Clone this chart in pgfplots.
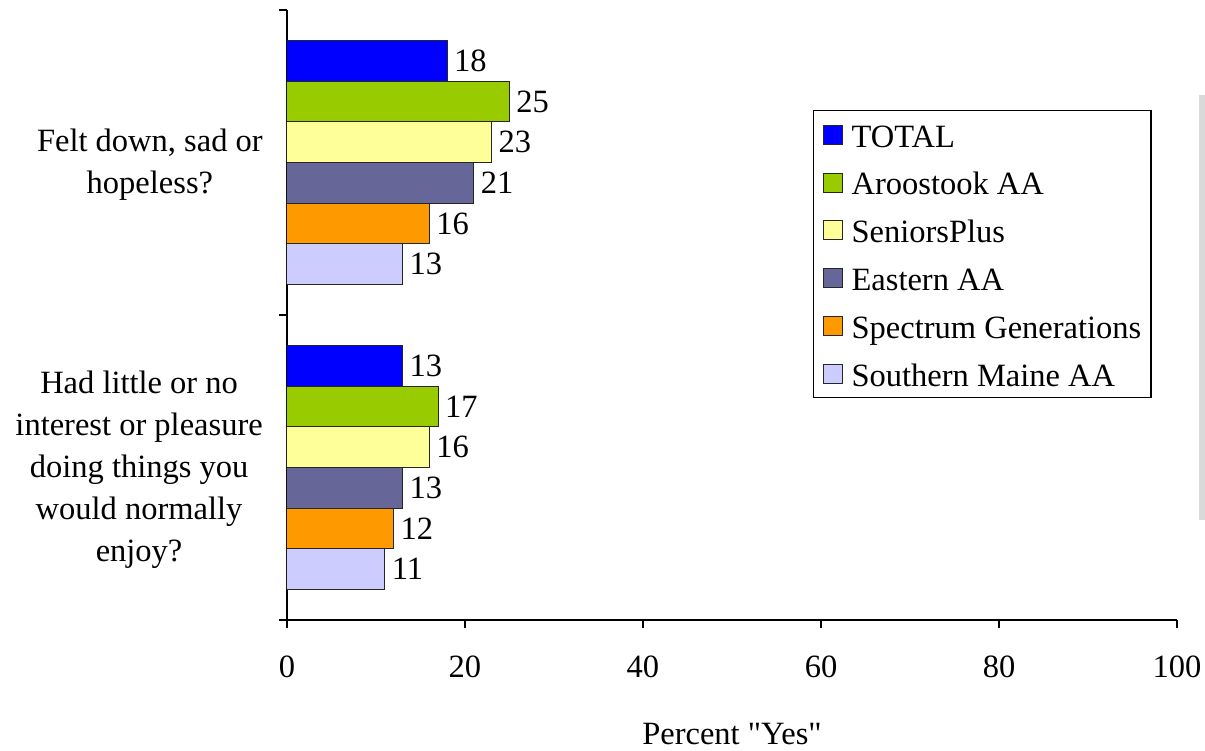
\documentclass[border=0pt]{standalone}
\usepackage{fontspec}
\setmainfont{Liberation Serif}
\usepackage{pgfplots}
\pgfplotsset{compat=1.18}
\pgfplotsset{/pgf/number format/assume math mode=true}

\definecolor{cTotal}{HTML}{0000FF}
\definecolor{cAroostook}{HTML}{99CC00}
\definecolor{cSeniors}{HTML}{FFFF99}
\definecolor{cEastern}{HTML}{666699}
\definecolor{cSpectrum}{HTML}{FF9900}
\definecolor{cSouthern}{HTML}{CCCCFF}

\newcommand{\chartfont}{\fontsize{16.25}{21}\selectfont}

\begin{document}
\begin{tikzpicture}
\useasboundingbox (-143.5pt,-65pt) rectangle (459pt,310pt);
\begin{axis}[
  xbar,
  scale only axis,
  width=445pt, height=305pt,
  xmin=0, xmax=100,
  ymin=-0.5, ymax=1.5,
  axis x line*=bottom,
  axis y line*=left,
  axis line style={-, line width=0.6pt, black},
  xtick={0,20,40,60,80,100},
  ytick={-0.5,0.5,1.5},
  y tick label as interval,
  yticklabels={{Had little or no\\interest or pleasure\\doing things you\\would normally\\enjoy?},{Felt down, sad or\\hopeless?}},
  tick align=outside,
  major tick length=4pt,
  tick style={line width=0.6pt, black},
  tick label style={font=\chartfont},
  yticklabel style={align=center, xshift=-4.6pt, yshift=-1.2pt},
  xticklabel style={yshift=-10.5pt},
  xlabel={Percent \textquotedbl Yes\textquotedbl},
  xlabel style={font=\chartfont, at={(axis description cs:0.5,0)}, anchor=base, yshift=-62pt},
  bar width=0.1333,
  point meta=x,
  nodes near coords,
  nodes near coords style={font=\chartfont, anchor=west, inner sep=0pt, xshift=3.2pt, black},
  every axis plot/.append style={draw=black!85, line width=0.5pt},
  legend cell align=left,
  legend image code/.code={\draw[#1, draw=black!85, line width=0.5pt] (0pt,-4.75pt) rectangle (9.5pt,4.75pt);},
  legend style={at={(0.591,0.836)}, anchor=north west, draw=black, line width=0.6pt,
    font=\chartfont, inner xsep=4.8pt, inner ysep=4.2pt, row sep=8.2pt, column sep=4.2pt,
    nodes={inner sep=0pt, text height=14pt, text depth=1.7pt}},
]
% TOTAL
\addplot[fill=cTotal, bar shift=0.3333] coordinates {(18,1) (13,0)};
% Aroostook AA
\addplot[fill=cAroostook, bar shift=0.2] coordinates {(25,1) (17,0)};
% SeniorsPlus
\addplot[fill=cSeniors, bar shift=0.0667] coordinates {(23,1) (16,0)};
% Eastern AA
\addplot[fill=cEastern, bar shift=-0.0667] coordinates {(21,1) (13,0)};
% Spectrum Generations
\addplot[fill=cSpectrum, bar shift=-0.2] coordinates {(16,1) (12,0)};
% Southern Maine AA
\addplot[fill=cSouthern, bar shift=-0.3333] coordinates {(13,1) (11,0)};
\legend{TOTAL, Aroostook AA, SeniorsPlus, Eastern AA, Spectrum Generations, Southern Maine AA}
\end{axis}
% thin grey strip along the right edge
\fill[black!15] (456pt,50pt) rectangle (459pt,262.5pt);
\end{tikzpicture}
\end{document}
